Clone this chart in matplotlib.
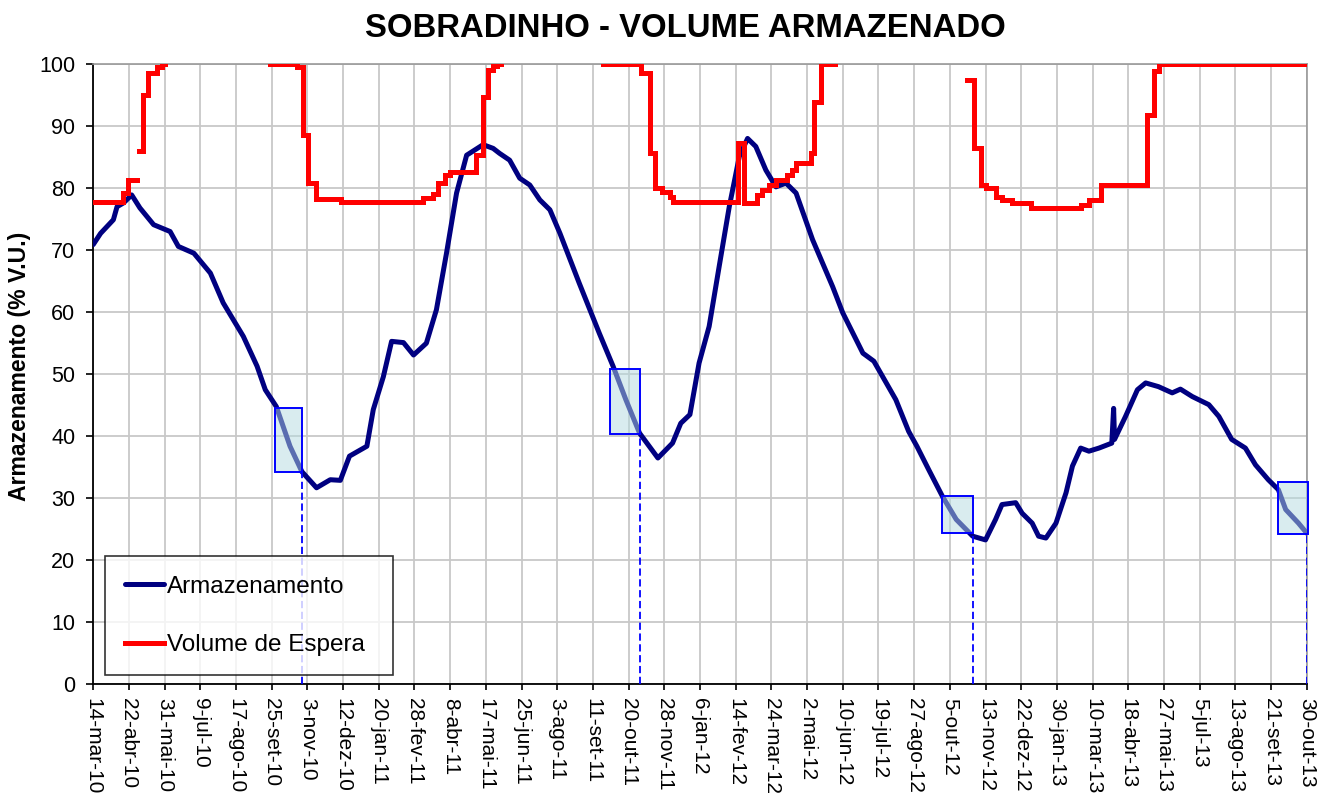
import numpy as np
import pandas as pd
import matplotlib
matplotlib.use("Agg")
import matplotlib.pyplot as plt
from matplotlib.patches import Rectangle

plt.rcParams['font.family'] = ['Liberation Sans', 'DejaVu Sans']

# ---------------- data ----------------
start_date = "2010-03-14"

tick_labels = ["14-mar-10", "22-abr-10", "31-mai-10", "9-jul-10", "17-ago-10", "25-set-10",
               "3-nov-10", "12-dez-10", "20-jan-11", "28-fev-11", "8-abr-11", "17-mai-11",
               "25-jun-11", "3-ago-11", "11-set-11", "20-out-11", "28-nov-11", "6-jan-12",
               "14-fev-12", "24-mar-12", "2-mai-12", "10-jun-12", "19-jul-12", "27-ago-12",
               "5-out-12", "13-nov-12", "22-dez-12", "30-jan-13", "10-mar-13", "18-abr-13",
               "27-mai-13", "5-jul-13", "13-ago-13", "21-set-13", "30-out-13"]

# Armazenamento (% V.U.) -- days since start_date
arm_day = [0, 8, 22, 26, 33, 42, 51, 66, 84, 93,
           110, 128, 142, 164, 179, 188, 200, 215, 228, 244,
           259, 270, 280, 299, 306, 317, 326, 339, 350, 364,
           375, 386, 397, 408, 426, 437, 444, 455, 466, 477,
           488, 499, 510, 531, 553, 568, 582, 597, 617, 633,
           642, 652, 662, 673, 684, 695, 706, 715, 724, 735,
           746, 757, 768, 786, 808, 819, 841, 853, 877, 891,
           900, 913, 928, 943, 961, 975, 986, 993, 1008, 1015,
           1026, 1033, 1041, 1052, 1063, 1070, 1079, 1088, 1099, 1113,
           1115, 1116, 1128, 1141, 1150, 1164, 1179, 1188, 1201, 1219,
           1230, 1244, 1259, 1270, 1284, 1295, 1303, 1317, 1326]
arm_val = [70.9, 72.7, 74.9, 77.0, 77.6, 78.9, 76.8, 74.1, 73.0, 70.6,
           69.5, 66.3, 61.5, 56.1, 51.3, 47.5, 44.8, 38.4, 34.3, 31.7,
           33.0, 32.9, 36.8, 38.4, 44.3, 49.6, 55.3, 55.1, 53.1, 55.0,
           60.4, 69.5, 79.2, 85.3, 87.0, 86.4, 85.6, 84.5, 81.6, 80.5,
           78.1, 76.5, 72.7, 64.7, 56.6, 51.3, 45.9, 40.5, 36.5, 38.9,
           42.1, 43.5, 51.8, 57.7, 67.4, 77.0, 85.1, 88.0, 86.7, 82.9,
           80.2, 80.8, 79.2, 71.7, 64.1, 59.9, 53.4, 52.1, 45.9, 40.8,
           38.4, 34.6, 30.3, 26.6, 23.9, 23.3, 26.6, 29.0, 29.3, 27.6,
           26.0, 23.9, 23.6, 26.0, 30.9, 35.2, 38.1, 37.6, 38.1, 38.9,
           44.5, 39.5, 43.2, 47.5, 48.6, 48.0, 47.0, 47.6, 46.4, 45.1,
           43.2, 39.5, 38.1, 35.4, 33.0, 31.4, 28.2, 26.0, 24.4]

# Volume de Espera (% V.U.) -- step values, NaN = no value
esp_day = [0, 33, 38, 48, 50.5, 54, 60, 69.5, 75, 78,
           193, 222.6, 229.5, 234.6, 243.4, 270.7, 360, 371, 376.5, 384,
           389.6, 418, 425.6, 431, 436.5, 441, 446, 556.6, 599, 608,
           613.3, 622, 629.7, 633, 704.5, 711.6, 725.8, 731.2, 738.9, 746.5,
           758.5, 764, 768.3, 784.4, 788, 795.3, 810, 955.2, 962.6, 969.9,
           975.4, 986.3, 993.1, 1004.1, 1024.5, 1079.4, 1088.1, 1100.8, 1151.7, 1159,
           1164.5, 1326]
esp_val = [77.8, 79.2, 81.3, np.nan, 85.9, 95.0, 98.5, 99.5, 100, np.nan,
           100, 99.5, 88.6, 80.8, 78.2, 77.8, 78.4, 79.0, 80.8, 82.1,
           82.6, 85.3, 94.7, 99.0, 99.7, 100, np.nan, 100, 98.5, 85.6,
           80.0, 79.4, 78.6, 77.8, 87.2, 77.6, 78.9, 79.7, 80.5, 81.3,
           82.1, 82.9, 84.0, 85.6, 93.9, 100, np.nan, 97.5, 86.4, 80.5,
           80.0, 78.6, 78.1, 77.6, 76.8, 77.3, 78.1, 80.5, 91.8, 98.8,
           100, 100]

# highlighted boxes (days since start, % V.U.)
box_day0 = [199, 565, 927, 1295]
box_day1 = [228, 598, 961, 1327]
box_low = [34.2, 40.3, 24.4, 24.3]
box_high = [44.6, 50.8, 30.4, 32.6]
mark_day = [228, 597, 961, 1326]

# ---------------- conversion ----------------
meses = {"jan": 1, "fev": 2, "mar": 3, "abr": 4, "mai": 5, "jun": 6,
         "jul": 7, "ago": 8, "set": 9, "out": 10, "nov": 11, "dez": 12}
t0 = pd.Timestamp(start_date)


def to_date(days):
    return t0 + pd.to_timedelta(np.asarray(days, dtype=float), unit="D")


def parse_label(s):
    d, m, y = s.split("-")
    return pd.Timestamp(year=2000 + int(y), month=meses[m], day=int(d))


tick_dates = [parse_label(s) for s in tick_labels]
arm_x = to_date(arm_day)
esp_x = to_date(esp_day)

# ---------------- figure ----------------
fig = plt.figure(figsize=(13.34, 8.0), dpi=100)
ax = fig.add_axes([0.0699, 0.1444, 0.9801 - 0.0699, 0.92 - 0.1444])

ax.plot(arm_x, arm_val, color="#000080", lw=3.6, solid_capstyle="round",
        solid_joinstyle="round", label="Armazenamento", zorder=3)
ax.plot(esp_x, esp_val, color="#FF0000", lw=3.6, drawstyle="steps-post",
        solid_joinstyle="miter", label="Volume de Espera", zorder=4)

for d0, d1, lo, hi in zip(box_day0, box_day1, box_low, box_high):
    x0 = matplotlib.dates.date2num(to_date([d0])[0])
    x1 = matplotlib.dates.date2num(to_date([d1])[0])
    ax.add_patch(Rectangle((x0, lo), x1 - x0, hi - lo, facecolor=(0.71, 0.86, 0.88, 0.5),
                           edgecolor="#0000FF", lw=1.4, zorder=5, clip_on=False))
ax.vlines(to_date(mark_day), 0, box_low, colors="#0000FF", lw=1.3,
          linestyles=(0, (4, 2)), zorder=5)

ax.set_xlim(t0, to_date([1326.8])[0])
ax.set_ylim(0, 100)
ax.set_yticks(range(0, 101, 10))
ax.set_xticks(tick_dates)
ax.set_xticklabels(tick_labels, rotation=270, ha="center", va="top", fontsize=15)
ax.tick_params(axis="y", labelsize=15.5, length=5, width=1.2, pad=8)
ax.tick_params(axis="x", length=4, width=1.2, pad=6)

ax.grid(True, color="#C8C8C8", lw=1.3, zorder=0)
ax.set_axisbelow(True)
for s in ["left", "bottom"]:
    ax.spines[s].set_color("black")
    ax.spines[s].set_linewidth(1.3)
for s in ["top", "right"]:
    ax.spines[s].set_color("#999999")
    ax.spines[s].set_linewidth(1.2)

leg = ax.legend(loc="lower left", bbox_to_anchor=(0.0099, 0.0145, 0.237, 0.2),
                mode="expand", fontsize=17.5, frameon=True, fancybox=False,
                edgecolor="black", borderpad=0.8, labelspacing=1.5,
                handlelength=1.6, handletextpad=0.12, borderaxespad=0)
leg.get_frame().set_linewidth(1.2)
leg.set_zorder(10)

fig.text(685 / 1334, 1 - 28.5 / 800, "SOBRADINHO - VOLUME ARMAZENADO",
         ha="center", va="center", fontsize=23.7, fontweight="bold")
fig.text(20 / 1334, 1 - 366 / 800, "Armazenamento (% V.U.)", rotation=90,
         ha="center", va="center", fontsize=16.6, fontweight="bold")

fig.savefig("out.png", dpi=100)
